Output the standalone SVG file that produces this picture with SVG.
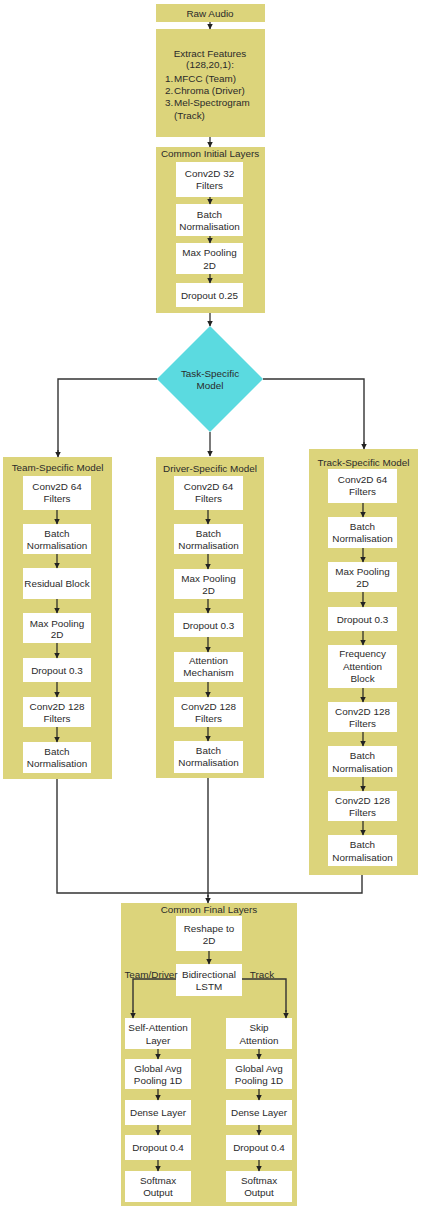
<svg xmlns="http://www.w3.org/2000/svg" width="424" height="1210" viewBox="0 0 424 1210">
<defs>
<marker id="ah" markerUnits="userSpaceOnUse" markerWidth="6" markerHeight="6" refX="5.5" refY="3" orient="auto">
<path d="M0,0 L6,3 L0,6 z" fill="#222"/>
</marker>
<style>
.y{fill:#DCD47B}
.w{fill:#ffffff}
.d{fill:#5BDAE0}
text{font-family:"Liberation Sans",Arial,sans-serif;font-size:9.9px;fill:#2a2a2a;text-anchor:middle}
.l{text-anchor:start}
.e{text-anchor:end}
.a{stroke:#222;stroke-width:1.2;fill:none;marker-end:url(#ah)}
.c{stroke:#333;stroke-width:1.4;fill:none}
</style>
</defs>
<rect width="424" height="1210" fill="#ffffff"/>

<g id="raw-audio">
<rect class="y" x="156" y="4" width="109" height="18"/>
<text x="210" y="16.5">Raw Audio</text>
</g>
<g id="extract-features">
<rect class="y" x="156" y="29" width="109" height="108"/>
<text x="210" y="56.5">Extract Features</text>
<text x="210" y="68">(128,20,1):</text>
<text class="l" x="165" y="81.5">1.</text><text class="l" x="174" y="81.5">MFCC (Team)</text>
<text class="l" x="165" y="93.5">2.</text><text class="l" x="174" y="93.5">Chroma (Driver)</text>
<text class="l" x="165" y="105.5">3.</text><text class="l" x="174" y="105.5">Mel-Spectrogram</text>
<text class="l" x="174" y="118.5">(Track)</text>
</g>

<g id="common-initial">
<rect class="y" x="156" y="147" width="109" height="166"/>
<text x="210" y="156.5">Common Initial Layers</text>
<g id="ci-conv"><rect class="w" x="176" y="162" width="67" height="35"/><text x="209.5" y="176.5">Conv2D 32</text><text x="209.5" y="189">Filters</text></g>
<g id="ci-bn"><rect class="w" x="176" y="204" width="67" height="32"/><text x="209.5" y="217.5">Batch</text><text x="209.5" y="230">Normalisation</text></g>
<g id="ci-mp"><rect class="w" x="176" y="243" width="67" height="31"/><text x="209.5" y="256">Max Pooling</text><text x="209.5" y="268.5">2D</text></g>
<g id="ci-do"><rect class="w" x="176" y="283" width="67" height="24"/><text x="209.5" y="298.5">Dropout 0.25</text></g>
</g>

<g id="task-specific">
<polygon class="d" points="210,326 263,379 210,432 157,379"/>
<text x="210" y="376.5">Task-Specific</text>
<text x="210" y="388.5">Model</text>
</g>

<g id="team-model">
<rect class="y" x="3" y="457" width="109" height="322"/>
<text x="57.5" y="470.5">Team-Specific Model</text>
<g id="tm-1"><rect class="w" x="23" y="476" width="68" height="34"/><text x="57" y="489.5">Conv2D 64</text><text x="57" y="502">Filters</text></g>
<g id="tm-2"><rect class="w" x="23" y="524" width="68" height="30"/><text x="57" y="536.5">Batch</text><text x="57" y="549">Normalisation</text></g>
<g id="tm-3"><rect class="w" x="23" y="568" width="68" height="31"/><text x="57" y="587">Residual Block</text></g>
<g id="tm-4"><rect class="w" x="23" y="613" width="68" height="30"/><text x="57" y="626.5">Max Pooling</text><text x="57" y="638">2D</text></g>
<g id="tm-5"><rect class="w" x="23" y="658" width="68" height="24"/><text x="57" y="673.5">Dropout 0.3</text></g>
<g id="tm-6"><rect class="w" x="23" y="697" width="68" height="30"/><text x="57" y="709.5">Conv2D 128</text><text x="57" y="721.5">Filters</text></g>
<g id="tm-7"><rect class="w" x="23" y="742" width="68" height="31"/><text x="57" y="754.5">Batch</text><text x="57" y="767">Normalisation</text></g>
</g>

<g id="driver-model">
<rect class="y" x="156" y="457" width="108" height="321"/>
<text x="210" y="471.5">Driver-Specific Model</text>
<g id="dm-1"><rect class="w" x="174" y="476" width="69" height="34"/><text x="208.5" y="489.5">Conv2D 64</text><text x="208.5" y="502">Filters</text></g>
<g id="dm-2"><rect class="w" x="174" y="524" width="69" height="30"/><text x="208.5" y="536.5">Batch</text><text x="208.5" y="549">Normalisation</text></g>
<g id="dm-3"><rect class="w" x="174" y="569" width="69" height="30"/><text x="208.5" y="581.5">Max Pooling</text><text x="208.5" y="594">2D</text></g>
<g id="dm-4"><rect class="w" x="174" y="613" width="69" height="24"/><text x="208.5" y="628.5">Dropout 0.3</text></g>
<g id="dm-5"><rect class="w" x="174" y="652" width="69" height="30"/><text x="208.5" y="664">Attention</text><text x="208.5" y="676">Mechanism</text></g>
<g id="dm-6"><rect class="w" x="174" y="697" width="69" height="30"/><text x="208.5" y="709.5">Conv2D 128</text><text x="208.5" y="721.5">Filters</text></g>
<g id="dm-7"><rect class="w" x="174" y="741" width="69" height="32"/><text x="208.5" y="753.5">Batch</text><text x="208.5" y="766">Normalisation</text></g>
</g>

<g id="track-model">
<rect class="y" x="309" y="449" width="109" height="426"/>
<text x="363.5" y="465.5">Track-Specific Model</text>
<g id="tr-1"><rect class="w" x="328" y="469" width="69" height="34"/><text x="362.5" y="482.5">Conv2D 64</text><text x="362.5" y="495">Filters</text></g>
<g id="tr-2"><rect class="w" x="328" y="517" width="69" height="31"/><text x="362.5" y="530">Batch</text><text x="362.5" y="542">Normalisation</text></g>
<g id="tr-3"><rect class="w" x="328" y="562" width="69" height="30"/><text x="362.5" y="574.5">Max Pooling</text><text x="362.5" y="587">2D</text></g>
<g id="tr-4"><rect class="w" x="328" y="607" width="69" height="24"/><text x="362.5" y="622.5">Dropout 0.3</text></g>
<g id="tr-5"><rect class="w" x="328" y="645" width="69" height="43"/><text x="362.5" y="656.5">Frequency</text><text x="362.5" y="670">Attention</text><text x="362.5" y="682">Block</text></g>
<g id="tr-6"><rect class="w" x="328" y="702" width="69" height="30"/><text x="362.5" y="714.5">Conv2D 128</text><text x="362.5" y="726.5">Filters</text></g>
<g id="tr-7"><rect class="w" x="328" y="746" width="69" height="31"/><text x="362.5" y="759">Batch</text><text x="362.5" y="771.5">Normalisation</text></g>
<g id="tr-8"><rect class="w" x="328" y="791" width="69" height="30"/><text x="362.5" y="803.5">Conv2D 128</text><text x="362.5" y="815.5">Filters</text></g>
<g id="tr-9"><rect class="w" x="328" y="835" width="69" height="31"/><text x="362.5" y="848">Batch</text><text x="362.5" y="860.5">Normalisation</text></g>
</g>

<g id="common-final">
<rect class="y" x="121" y="903" width="176" height="303"/>
<text x="209" y="912.5">Common Final Layers</text>
<g id="cf-reshape"><rect class="w" x="176" y="916" width="66" height="35"/><text x="209" y="931.5">Reshape to</text><text x="209" y="943.5">2D</text></g>
<g id="cf-lstm"><rect class="w" x="176" y="964" width="66" height="32"/><text x="209" y="977.5">Bidirectional</text><text x="209" y="990">LSTM</text></g>
<text x="151" y="977.5">Team/Driver</text>
<text x="262" y="977.5">Track</text>
<g id="cf-l1"><rect class="w" x="125" y="1018" width="66" height="31"/><text x="158" y="1031">Self-Attention</text><text x="158" y="1043.5">Layer</text></g>
<g id="cf-l2"><rect class="w" x="125" y="1059" width="66" height="30"/><text x="158" y="1072">Global Avg</text><text x="158" y="1084">Pooling 1D</text></g>
<g id="cf-l3"><rect class="w" x="125" y="1100" width="66" height="25"/><text x="158" y="1115.5">Dense Layer</text></g>
<g id="cf-l4"><rect class="w" x="125" y="1135" width="66" height="25"/><text x="158" y="1150.5">Dropout 0.4</text></g>
<g id="cf-l5"><rect class="w" x="125" y="1171" width="66" height="31"/><text x="158" y="1183.5">Softmax</text><text x="158" y="1195.5">Output</text></g>
<g id="cf-r1"><rect class="w" x="226" y="1018" width="66" height="31"/><text x="259" y="1031">Skip</text><text x="259" y="1043.5">Attention</text></g>
<g id="cf-r2"><rect class="w" x="226" y="1059" width="66" height="30"/><text x="259" y="1072">Global Avg</text><text x="259" y="1084">Pooling 1D</text></g>
<g id="cf-r3"><rect class="w" x="226" y="1100" width="66" height="25"/><text x="259" y="1115.5">Dense Layer</text></g>
<g id="cf-r4"><rect class="w" x="226" y="1135" width="66" height="25"/><text x="259" y="1150.5">Dropout 0.4</text></g>
<g id="cf-r5"><rect class="w" x="226" y="1171" width="66" height="31"/><text x="259" y="1183.5">Softmax</text><text x="259" y="1195.5">Output</text></g>
</g>

<g id="connectors">
<path class="a" d="M210,22 V29"/>
<path class="a" d="M210,137 V147"/>
<path class="a" d="M210,197 V204"/>
<path class="a" d="M210,236 V243"/>
<path class="a" d="M210,274 V283"/>
<path class="a" d="M210,313 V326"/>
<path class="c" d="M157,379 H58 V452"/><path class="a" d="M58,450 V457"/>
<path class="c" d="M263,379 H364 V444"/><path class="a" d="M364,442 V449"/>
<path class="a" d="M210,432 V456"/>
<path class="a" d="M57,510 V524"/>
<path class="a" d="M57,554 V568"/>
<path class="a" d="M57,599 V613"/>
<path class="a" d="M57,643 V658"/>
<path class="a" d="M57,682 V697"/>
<path class="a" d="M57,727 V742"/>
<path class="a" d="M208,510 V524"/>
<path class="a" d="M208,554 V569"/>
<path class="a" d="M208,599 V613"/>
<path class="a" d="M208,637 V652"/>
<path class="a" d="M208,682 V697"/>
<path class="a" d="M208,727 V741"/>
<path class="a" d="M363,503 V517"/>
<path class="a" d="M363,548 V562"/>
<path class="a" d="M363,592 V607"/>
<path class="a" d="M363,631 V645"/>
<path class="a" d="M363,688 V702"/>
<path class="a" d="M363,732 V746"/>
<path class="a" d="M363,777 V791"/>
<path class="a" d="M363,821 V835"/>
<path class="c" d="M57,779 V893 H362 V875"/>
<path class="c" d="M208,778 V897"/><path class="a" d="M208,895 V903"/>
<path class="a" d="M209,951 V964"/>
<path class="c" d="M176,979 H133 V1012"/><path class="a" d="M133,1010 V1018"/>
<path class="c" d="M242,979 H286 V1012"/><path class="a" d="M286,1010 V1018"/>
<path class="a" d="M158,1049 V1059"/>
<path class="a" d="M158,1089 V1100"/>
<path class="a" d="M158,1125 V1135"/>
<path class="a" d="M158,1160 V1171"/>
<path class="a" d="M259,1049 V1059"/>
<path class="a" d="M259,1089 V1100"/>
<path class="a" d="M259,1125 V1135"/>
<path class="a" d="M259,1160 V1171"/>
</g>
</svg>
